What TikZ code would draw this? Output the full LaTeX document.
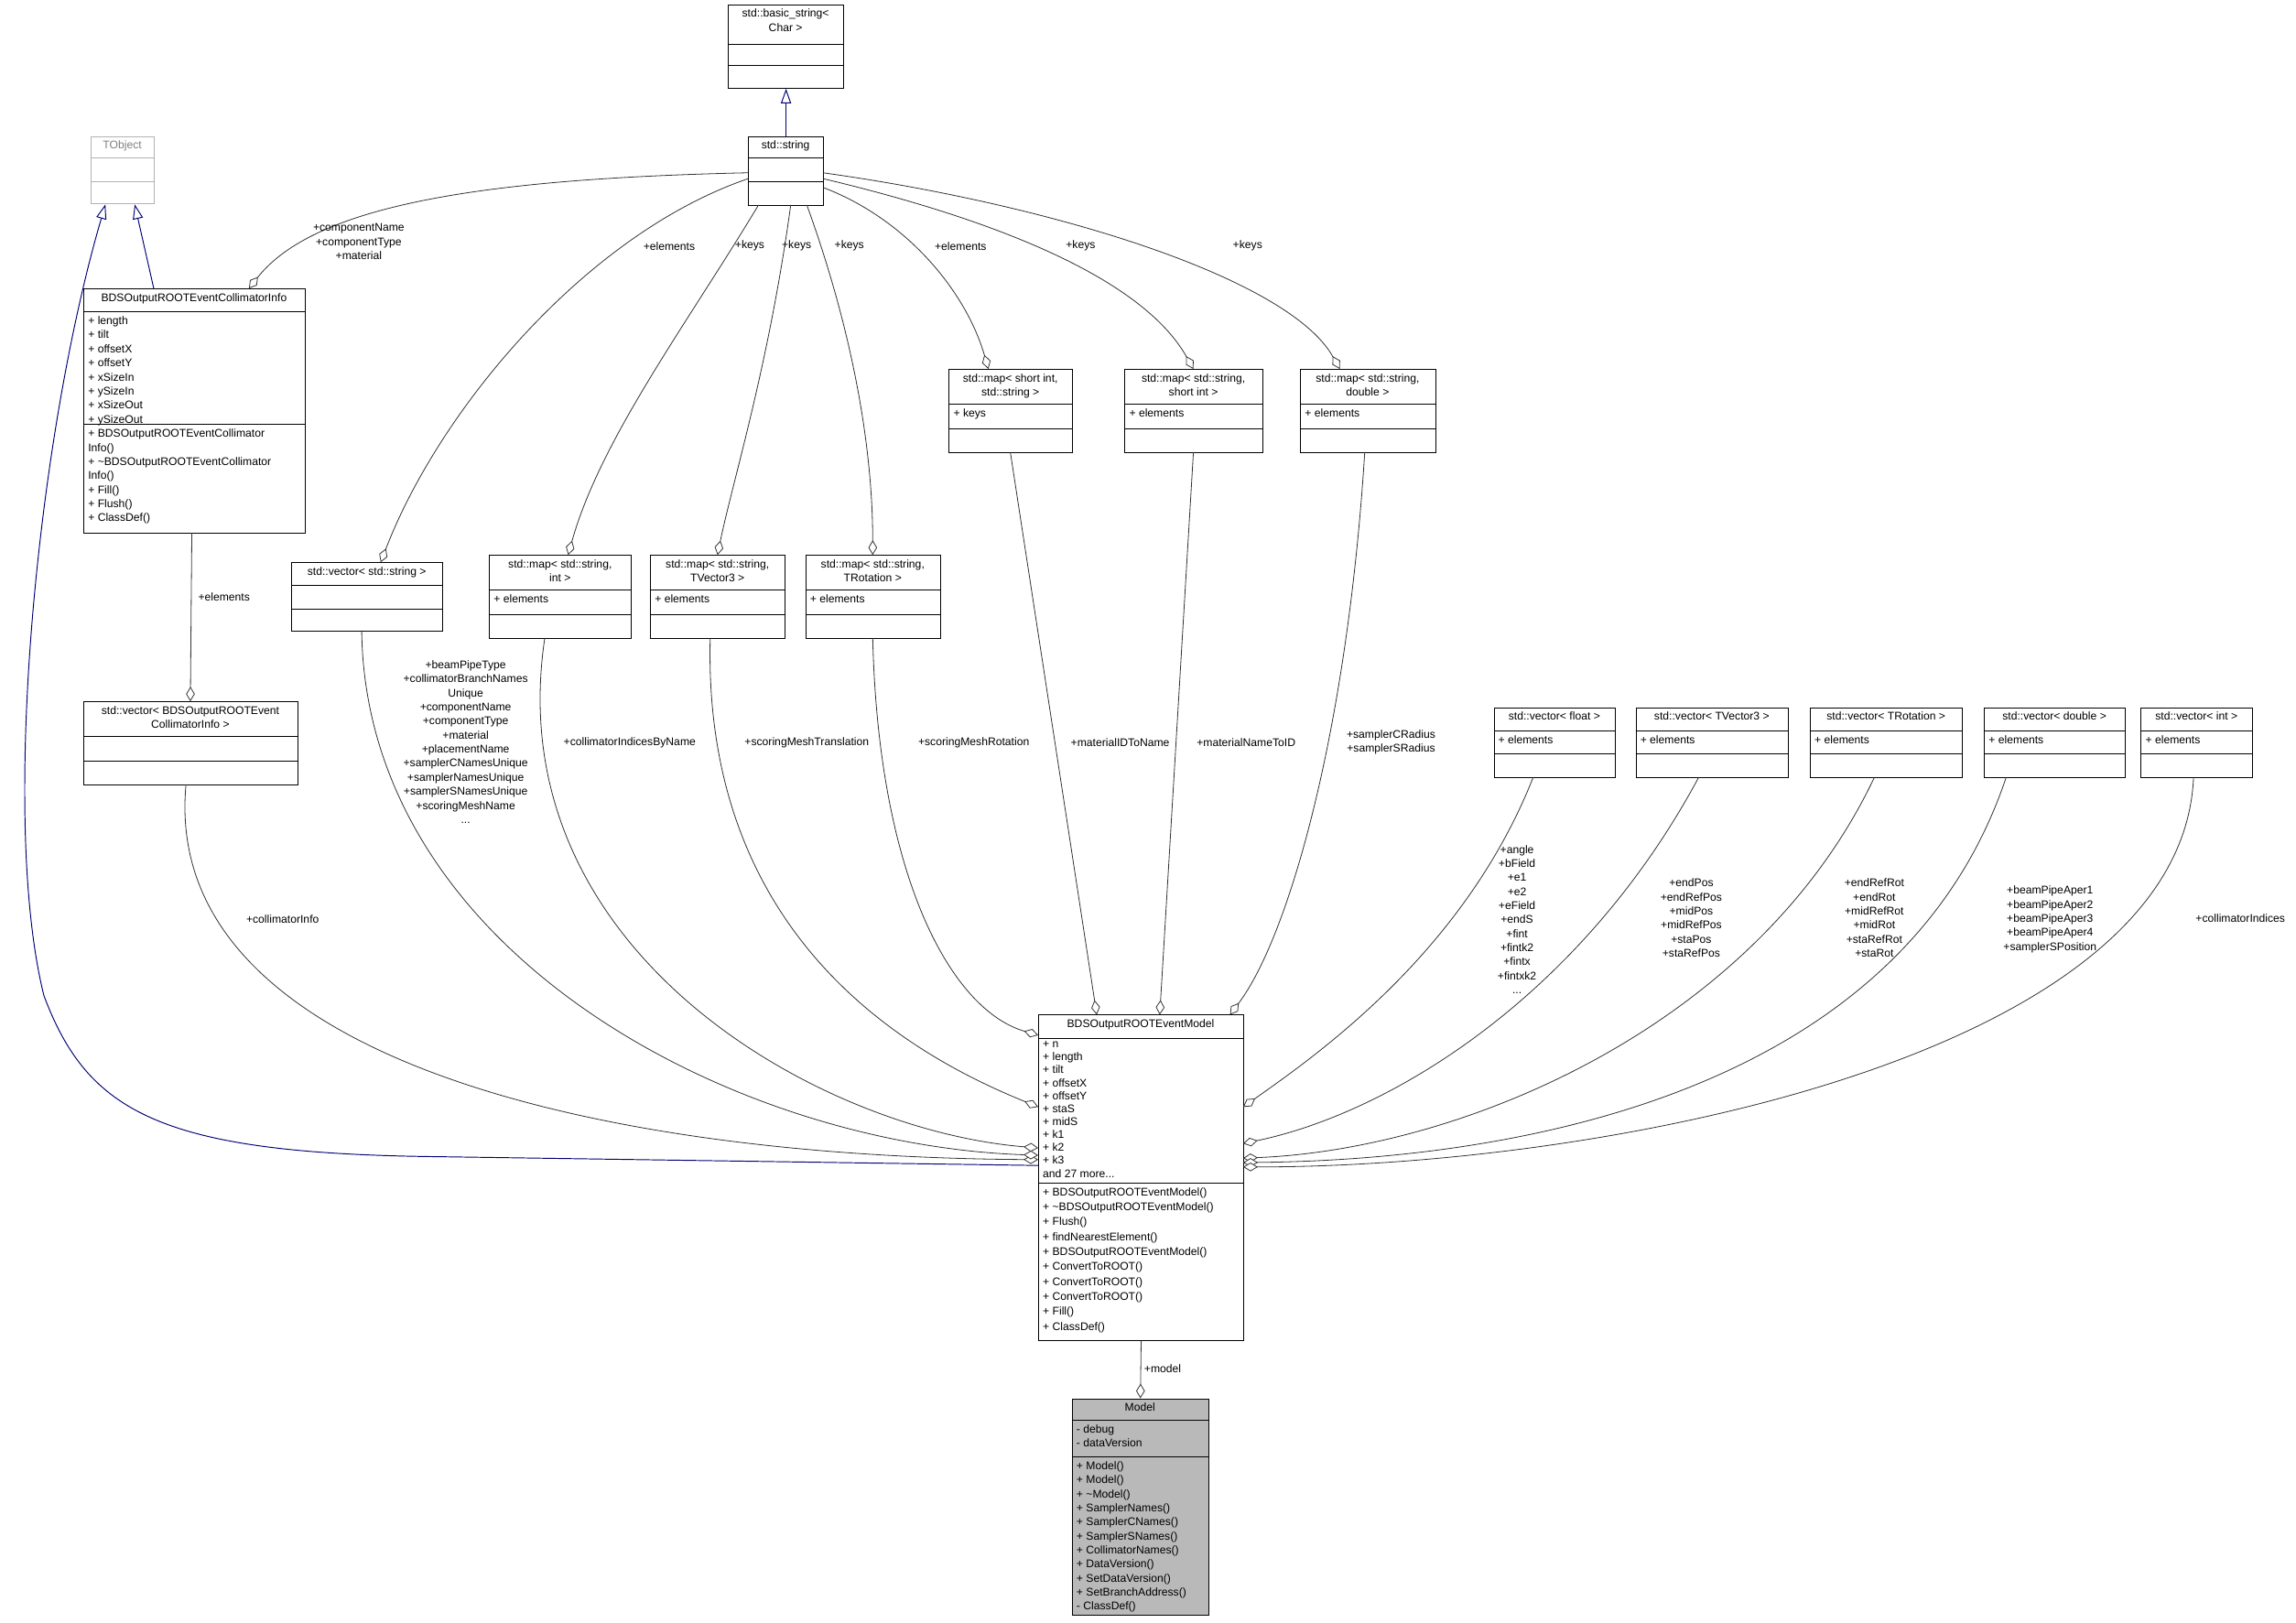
\documentclass[tikz,border=0pt]{standalone}
\usepackage{fontspec}
\setmainfont{Liberation Sans}
\usetikzlibrary{arrows.meta,calc}
\tikzset{
  x=1pt,y=1pt,
  cbox/.style={draw=black,line width=0.6pt,inner sep=0,fill=white},
  gbox/.style={draw=gray!60,line width=0.6pt,inner sep=0,fill=white},
  mbox/.style={draw=black,line width=0.6pt,inner sep=0,fill=gray!55},
  ttl/.style={anchor=north,align=center,inner sep=0,font=\fontsize{7.6}{9.6}\selectfont},
  mem/.style={anchor=north west,align=left,inner sep=0,font=\fontsize{7.6}{9.6}\selectfont},
  lbl/.style={align=center,inner sep=0,font=\fontsize{7.6}{9.6}\selectfont},
  agg/.style={draw=black!80,line width=0.5pt,-{Diamond[open,length=10pt,width=6pt,fill=white]}},
  inh/.style={draw=blue!45!black,line width=0.6pt,-{Triangle[open,length=10pt,width=7pt,fill=white]}},
}
\newcommand\cls[9]{%
  \node[#9,minimum width={#4pt-#2pt},minimum height={#5pt-#3pt},anchor=north west] (#1) at (#2,-#3) {};
  \draw[#9,fill=none] (#2,-#6) -- (#4,-#6) (#2,-#7) -- (#4,-#7);
  \node[ttl] at ({(#2+#4)/2},-#3-3) {#8};}
\begin{document}
\begin{tikzpicture}
\useasboundingbox (0,0) rectangle (1568,-1108);
\fill[white] (0,0) rectangle (1568,-1108);
% classes
\cls{bstr}{497}{3}{576}{60}{30}{45}{std::basic\_string\textless\\Char \textgreater}{cbox}
\cls{str}{511}{93}{562}{140}{108}{124}{std::string}{cbox}
\cls{tobj}{62}{93}{105}{139}{108}{124}{\textcolor{gray}{TObject}}{gbox}
\cls{coll}{57}{197}{208}{364}{213}{290}{BDSOutputROOTEventCollimatorInfo}{cbox}
\node[mem] at (60,-216) {+ length\\+ tilt\\+ offsetX\\+ offsetY\\+ xSizeIn\\+ ySizeIn\\+ xSizeOut\\+ ySizeOut};
\node[mem] at (60,-293) {+ BDSOutputROOTEventCollimator\\Info()\\+ \textasciitilde BDSOutputROOTEventCollimator\\Info()\\+ Fill()\\+ Flush()\\+ ClassDef()};
\cls{vcoll}{57}{479}{203}{536}{503}{520}{std::vector\textless{} BDSOutputROOTEvent\\CollimatorInfo \textgreater}{cbox}
\cls{vstr}{199}{384}{302}{431}{400}{416}{std::vector\textless{} std::string \textgreater}{cbox}
\cls{mint}{334}{379}{431}{436}{403}{420}{std::map\textless{} std::string,\\int \textgreater}{cbox}
\node[mem] at (337,-406) {+ elements};
\cls{mtv3}{444}{379}{536}{436}{403}{420}{std::map\textless{} std::string,\\TVector3 \textgreater}{cbox}
\node[mem] at (447,-406) {+ elements};
\cls{mrot}{550}{379}{642}{436}{403}{420}{std::map\textless{} std::string,\\TRotation \textgreater}{cbox}
\node[mem] at (553,-406) {+ elements};
\cls{msi}{648}{252}{732}{309}{276}{293}{std::map\textless{} short int,\\std::string \textgreater}{cbox}
\node[mem] at (651,-279) {+ keys};
\cls{mss}{768}{252}{862}{309}{276}{293}{std::map\textless{} std::string,\\short int \textgreater}{cbox}
\node[mem] at (771,-279) {+ elements};
\cls{mdbl}{888}{252}{980}{309}{276}{293}{std::map\textless{} std::string,\\double \textgreater}{cbox}
\node[mem] at (891,-279) {+ elements};
\cls{vflt}{1020}{483}{1103}{531}{499}{515}{std::vector\textless{} float \textgreater}{cbox}
\node[mem] at (1023,-502) {+ elements};
\cls{vtv3}{1117}{483}{1221}{531}{499}{515}{std::vector\textless{} TVector3 \textgreater}{cbox}
\node[mem] at (1120,-502) {+ elements};
\cls{vrot}{1236}{483}{1340}{531}{499}{515}{std::vector\textless{} TRotation \textgreater}{cbox}
\node[mem] at (1239,-502) {+ elements};
\cls{vdbl}{1355}{483}{1451}{531}{499}{515}{std::vector\textless{} double \textgreater}{cbox}
\node[mem] at (1358,-502) {+ elements};
\cls{vint}{1462}{483}{1538}{531}{499}{515}{std::vector\textless{} int \textgreater}{cbox}
\node[mem] at (1465,-502) {+ elements};
\cls{em}{709}{693}{849}{915}{709}{808}{BDSOutputROOTEventModel}{cbox}
\node[mem,font=\fontsize{7.6}{8.85}\selectfont] at (712,-711) {+ n\\+ length\\+ tilt\\+ offsetX\\+ offsetY\\+ staS\\+ midS\\+ k1\\+ k2\\+ k3\\and 27 more...};
\node[mem,font=\fontsize{7.6}{10.2}\selectfont] at (712,-811) {+ BDSOutputROOTEventModel()\\+ \textasciitilde BDSOutputROOTEventModel()\\+ Flush()\\+ findNearestElement()\\+ BDSOutputROOTEventModel()\\+ ConvertToROOT()\\+ ConvertToROOT()\\+ ConvertToROOT()\\+ Fill()\\+ ClassDef()};
\cls{mdl}{732}{955}{825}{1103}{970}{995}{Model}{mbox}
\node[mem] at (735,-973) {- debug\\- dataVersion};
\node[mem] at (735,-998) {+ Model()\\+ Model()\\+ \textasciitilde Model()\\+ SamplerNames()\\+ SamplerCNames()\\+ SamplerSNames()\\+ CollimatorNames()\\+ DataVersion()\\+ SetDataVersion()\\+ SetBranchAddress()\\- ClassDef()};
% inheritance
\draw[inh] (str.north) -- (bstr.south);
\draw[inh] ($(coll.north west)+(48,0)$) -- ($(tobj.south west)+(30,0)$);
\draw[inh] ($(em.north west)+(0,-103)$) -- (300,-790) .. controls (110,-788) and (60,-760) .. (30,-680) .. controls (0,-560) and (25,-300) .. ($(tobj.south west)+(10,0)$);
% from std::string
\draw[agg] ($(str.north west)+(0,-25)$) .. controls (330,-122) and (215,-140) .. ($(coll.north west)+(113,0)$);
\draw[agg] ($(str.north west)+(0,-29)$) .. controls (400,-160) and (300,-280) .. ($(vstr.north west)+(61,0)$);
\draw[agg] ($(str.north west)+(7,-47)$) .. controls (470,-220) and (410,-300) .. ($(mint.north west)+(54,0)$);
\draw[agg] ($(str.north west)+(29,-47)$) .. controls (525,-250) and (500,-330) .. ($(mtv3.north west)+(46,0)$);
\draw[agg] ($(str.north west)+(40,-47)$) .. controls (580,-220) and (596,-300) .. ($(mrot.north west)+(46,0)$);
\draw[agg] ($(str.north west)+(51,-35)$) .. controls (620,-150) and (660,-200) .. ($(msi.north west)+(27,0)$);
\draw[agg] ($(str.north west)+(51,-29)$) .. controls (680,-150) and (780,-190) .. ($(mss.north west)+(47,0)$);
\draw[agg] ($(str.north west)+(51,-25)$) .. controls (720,-140) and (880,-190) .. ($(mdbl.north west)+(27,0)$);
\node[lbl] at (245,-165) {+componentName\\+componentType\\+material};
\node[lbl] at (457,-168) {+elements};
\node[lbl] at (512,-168) {+keys};
\node[lbl] at (544,-168) {+keys};
\node[lbl] at (580,-168) {+keys};
\node[lbl] at (656,-168) {+elements};
\node[lbl] at (738,-168) {+keys};
\node[lbl] at (852,-168) {+keys};
% collimator info
\draw[agg] ($(coll.north west)+(74,-167)$) -- ($(vcoll.north west)+(73,0)$);
\node[lbl] at (153,-408) {+elements};
% into EventModel, left
\draw[agg] ($(vcoll.north west)+(70,-57)$) .. controls (110,-720) and (400,-790) .. ($(em.north west)+(0,-99)$);
\draw[agg] ($(vstr.north west)+(48,-47)$) .. controls (250,-650) and (500,-782) .. ($(em.north west)+(0,-96)$);
\draw[agg] ($(mint.north west)+(38,-57)$) .. controls (340,-650) and (560,-772) .. ($(em.north west)+(0,-91)$);
\draw[agg] ($(mtv3.north west)+(41,-57)$) .. controls (480,-640) and (620,-720) .. ($(em.north west)+(0,-63)$);
\draw[agg] ($(mrot.north west)+(46,-57)$) .. controls (600,-600) and (650,-690) .. ($(em.north west)+(0,-14)$);
% top
\draw[agg] ($(msi.north west)+(42,-57)$) -- ($(em.north west)+(40,0)$);
\draw[agg] ($(mss.north west)+(47,-57)$) -- ($(em.north west)+(83,0)$);
\draw[agg] ($(mdbl.north west)+(44,-57)$) .. controls (920,-500) and (880,-640) .. ($(em.north west)+(131,0)$);
% right
\draw[agg] ($(vflt.north west)+(27,-48)$) .. controls (1000,-650) and (900,-720) .. ($(em.north west)+(140,-63)$);
\draw[agg] ($(vtv3.north west)+(43,-48)$) .. controls (1080,-680) and (950,-760) .. ($(em.north west)+(140,-88)$);
\draw[agg] ($(vrot.north west)+(44,-48)$) .. controls (1200,-700) and (1000,-785) .. ($(em.north west)+(140,-98)$);
\draw[agg] ($(vdbl.north west)+(15,-48)$) .. controls (1300,-740) and (1050,-792) .. ($(em.north west)+(140,-101)$);
\draw[agg] ($(vint.north west)+(36,-48)$) .. controls (1490,-720) and (1100,-797) .. ($(em.north west)+(140,-104)$);
\draw[agg] (em.south) -- (mdl.north);
% labels
\node[lbl] at (193,-628) {+collimatorInfo};
\node[lbl,anchor=north] at (318,-451) {+beamPipeType\\+collimatorBranchNames\\Unique\\+componentName\\+componentType\\+material\\+placementName\\+samplerCNamesUnique\\+samplerNamesUnique\\+samplerSNamesUnique\\+scoringMeshName\\...};
\node[lbl] at (430,-507) {+collimatorIndicesByName};
\node[lbl] at (551,-507) {+scoringMeshTranslation};
\node[lbl] at (665,-507) {+scoringMeshRotation};
\node[lbl] at (765,-507) {+materialIDToName};
\node[lbl] at (851,-507) {+materialNameToID};
\node[lbl] at (950,-507) {+samplerCRadius\\+samplerSRadius};
\node[lbl,anchor=north] at (1036,-577) {+angle\\+bField\\+e1\\+e2\\+eField\\+endS\\+fint\\+fintk2\\+fintx\\+fintxk2\\...};
\node[lbl,anchor=north] at (1155,-600) {+endPos\\+endRefPos\\+midPos\\+midRefPos\\+staPos\\+staRefPos};
\node[lbl,anchor=north] at (1280,-600) {+endRefRot\\+endRot\\+midRefRot\\+midRot\\+staRefRot\\+staRot};
\node[lbl,anchor=north] at (1400,-605) {+beamPipeAper1\\+beamPipeAper2\\+beamPipeAper3\\+beamPipeAper4\\+samplerSPosition};
\node[lbl] at (1530,-627) {+collimatorIndices};
\node[lbl] at (794,-935) {+model};
\end{tikzpicture}
\end{document}
